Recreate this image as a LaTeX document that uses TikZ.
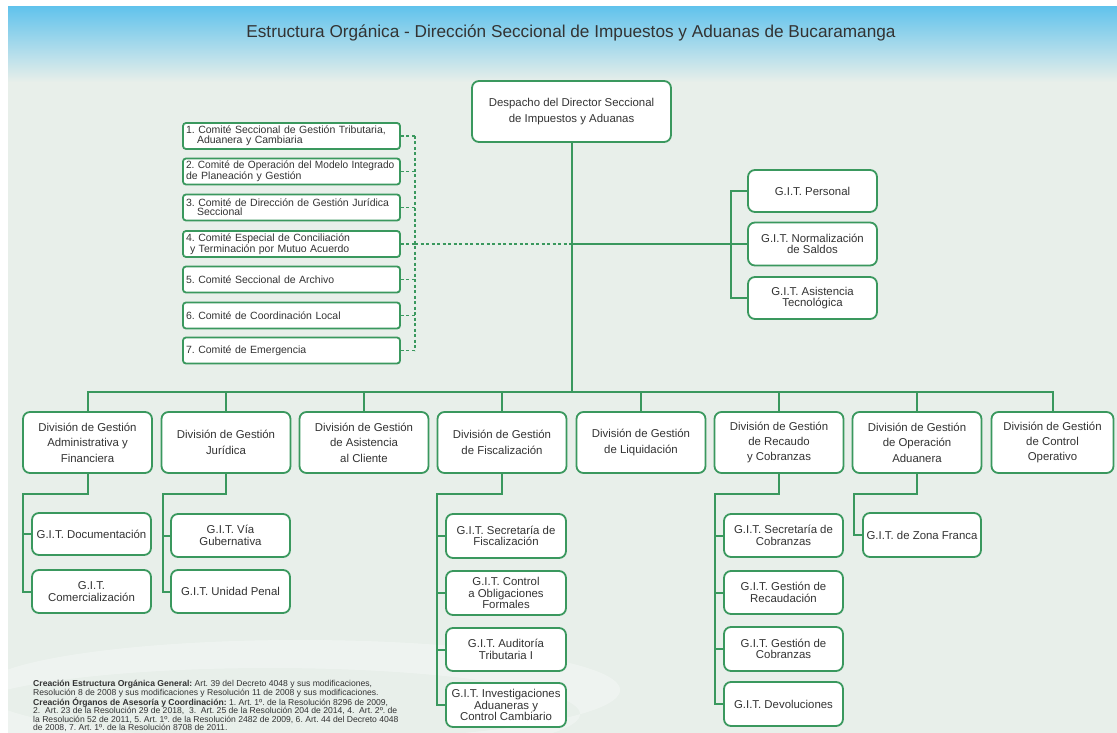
\documentclass[tikz,border=0pt]{standalone}
\usepackage{fontspec}
\usepackage{graphicx}
\setmainfont{Liberation Sans}
\usetikzlibrary{calc}
\definecolor{gr}{RGB}{58,152,94}
\definecolor{bg}{RGB}{232,239,234}
\definecolor{sky}{RGB}{98,195,236}
\definecolor{txt}{RGB}{51,51,51}
\frenchspacing
\hyphenpenalty=10000
\exhyphenpenalty=10000
\begin{document}
\begin{tikzpicture}[x=1pt,y=-1pt,
 box/.style={draw=gr, line width=1.8pt, fill=white, rounded corners=7pt, align=center, inner sep=1pt, text=txt, font=\fontsize{11.4}{15.4}\selectfont},
 git/.style={box, font=\fontsize{11.4}{11.6}\selectfont},
 comm/.style={draw=gr, line width=1.8pt, fill=white, rounded corners=3pt, align=left, inner xsep=3pt, inner ysep=0pt, text=txt, minimum height=26pt, text width=211pt, font=\fontsize{10.5}{8.8}\selectfont},
 link/.style={draw=gr, line width=2pt},
 dlink/.style={draw=gr, line width=1.6pt, dash pattern=on 3pt off 2.5pt}]
\useasboundingbox (0,0) rectangle (1117,733);
\clip (0,0) rectangle (1117,733);
% background
\fill[white] (0,0) rectangle (1117,733);
\fill[bg] (8,7) rectangle (1117,733);
\shade[top color=sky, bottom color=bg] (8,7) rectangle (1117,82);
\fill[white, opacity=.3, even odd rule] (300,690) ellipse [x radius=320, y radius=50] (270,714) ellipse [x radius=310, y radius=46];
% title
\node[text=txt, font=\fontsize{17.2}{19}\selectfont] (title) at (571,33) {Estructura Orgánica - Dirección Seccional de Impuestos y Aduanas de Bucaramanga};
% top
\node[box, minimum width=199pt, minimum height=61pt] (desp) at (571.5,111.5) {Despacho del Director Seccional\\de Impuestos y Aduanas};
% committees
\node[comm] (c1) at (291.5,136) {\mbox{1. Comité Seccional de Gestión Tributaria,}\\\mbox{\hspace*{11pt}Aduanera y Cambiaria}};
\node[comm] (c2) at (291.5,171.5) {\scalebox{0.965}[1]{2. Comité de Operación del Modelo Integrado}\\\mbox{de Planeación y Gestión}};
\node[comm] (c3) at (291.5,207.5) {\mbox{3. Comité de Dirección de Gestión Jurídica}\\\mbox{\hspace*{11pt}Seccional}};
\node[comm] (c4) at (291.5,244) {\mbox{4. Comité Especial de Conciliación}\\\mbox{\hspace*{4pt}y Terminación por Mutuo Acuerdo}};
\node[comm] (c5) at (291.5,279.5) {5. Comité Seccional de Archivo};
\node[comm] (c6) at (291.5,315.5) {6. Comité de Coordinación Local};
\node[comm] (c7) at (291.5,350.5) {7. Comité de Emergencia};
% right GITs
\node[git, minimum width=129pt, minimum height=42pt] (gp) at (812.5,191) {G.I.T. Personal};
\node[git, minimum width=129pt, minimum height=43pt] (gn) at (812.5,244) {G.I.T. Normalización\\de Saldos};
\node[git, minimum width=129pt, minimum height=42pt] (ga) at (812.5,298) {G.I.T. Asistencia\\Tecnológica};
% divisions
\node[box, minimum width=129pt, minimum height=61pt] (d1) at (87.5,442.5) {División de Gestión\\Administrativa y\\Financiera};
\node[box, minimum width=129pt, minimum height=61pt] (d2) at (226,442.5) {División de Gestión\\Jurídica};
\node[box, minimum width=129pt, minimum height=61pt] (d3) at (364,442.5) {División de Gestión\\de Asistencia\\al Cliente};
\node[box, minimum width=129pt, minimum height=61pt] (d4) at (502,442.5) {División de Gestión\\de Fiscalización};
\node[box, minimum width=129pt, minimum height=61pt] (d5) at (641,442.5) {División de Gestión\\de Liquidación};
\node[box, minimum width=129pt, minimum height=61pt] (d6) at (779,442.5) {División de Gestión\\de Recaudo\\y Cobranzas};
\node[box, minimum width=129pt, minimum height=61pt] (d7) at (917,442.5) {División de Gestión\\de Operación\\Aduanera};
\node[box, minimum width=122pt, minimum height=61pt] (d8) at (1052.5,442.5) {División de Gestión\\de Control\\Operativo};
% sub GITs
\node[git, minimum width=119pt, minimum height=42pt] (a1) at (91.5,534) {G.I.T. Documentación};
\node[git, minimum width=119pt, minimum height=43pt] (a2) at (91.5,591.5) {G.I.T.\\Comercialización};
\node[git, minimum width=119pt, minimum height=43pt] (j1) at (230.5,535.5) {G.I.T. Vía\\Gubernativa};
\node[git, minimum width=119pt, minimum height=43pt] (j2) at (230.5,591.5) {G.I.T. Unidad Penal};
\node[git, minimum width=120pt, minimum height=44pt] (f1) at (506,536) {G.I.T. Secretaría de\\Fiscalización};
\node[git, minimum width=120pt, minimum height=44pt] (f2) at (506,593) {G.I.T. Control\\a Obligaciones\\Formales};
\node[git, minimum width=120pt, minimum height=43pt] (f3) at (506,649.5) {G.I.T. Auditoría\\Tributaria I};
\node[git, minimum width=120pt, minimum height=44pt] (f4) at (506,705) {G.I.T. Investigaciones\\Aduaneras y\\Control Cambiario};
\node[git, minimum width=119pt, minimum height=43pt] (r1) at (783.5,535.5) {G.I.T. Secretaría de\\Cobranzas};
\node[git, minimum width=119pt, minimum height=43pt] (r2) at (783.5,592.5) {G.I.T. Gestión de\\Recaudación};
\node[git, minimum width=119pt, minimum height=44pt] (r3) at (783.5,649) {G.I.T. Gestión de\\Cobranzas};
\node[git, minimum width=119pt, minimum height=44pt] (r4) at (783.5,704) {G.I.T. Devoluciones};
\node[git, minimum width=118pt, minimum height=44pt] (z1) at (922,535) {G.I.T. de Zona Franca};
% coordinates
\coordinate (bar) at (571.5,392);
\coordinate (dv) at (415,0);
\coordinate (rv) at (731,0);
\coordinate (ae) at (23,494);
\coordinate (je) at (163,494);
\coordinate (fe) at (437,494);
\coordinate (re) at (715,494);
\coordinate (oe) at (854,494);
% connectors
\draw[link] (desp.south) -- (bar);
\draw[link] (d1.north) |- (bar) -| (d8.north);
\foreach \i in {2,...,7} {\draw[link] (d\i.north) -- (d\i.north |- bar);}
\foreach \i in {1,...,7} {\draw[dlink] (c\i.east) -- (c\i.east -| dv);}
\draw[dlink] (c1.east -| dv) -- (c7.east -| dv);
\draw[dlink] (c4.east -| dv) -- (c4.east -| desp.south);
\draw[link] (c4.east -| desp.south) -- (gn.west);
\draw[link] (gp.west) -| (rv |- ga.west) -- (ga.west);
\draw[link] (d1.south) |- (ae) |- (a2.west);
\draw[link] (ae |- a1.west) -- (a1.west);
\draw[link] (d2.south) |- (je) |- (j2.west);
\draw[link] (je |- j1.west) -- (j1.west);
\draw[link] (d4.south) |- (fe) |- (f4.west);
\foreach \n in {f1,f2,f3} {\draw[link] (fe |- \n.west) -- (\n.west);}
\draw[link] (d6.south) |- (re) |- (r4.west);
\foreach \n in {r1,r2,r3} {\draw[link] (re |- \n.west) -- (\n.west);}
\draw[link] (d7.south) |- (oe) |- (z1.west);
% footnote
\node[anchor=north west, align=left, inner sep=0pt, text=txt, font=\fontsize{8.6}{8.5}\selectfont] (note) at (33,680) {\textbf{Creación Estructura Orgánica General:} Art. 39 del Decreto 4048 y sus modificaciones,\\Resolución 8 de 2008 y sus modificaciones y Resolución 11 de 2008 y sus modificaciones.\\\textbf{Creación Órganos de Asesoría y Coordinación:} 1. Art. 1º. de la Resolución 8296 de 2009,\\2.~ Art. 23 de la Resolución 29 de 2018,~ 3.~ Art. 25 de la Resolución 204 de 2014, 4.~ Art. 2º. de\\la Resolución 52 de 2011, 5. Art. 1º. de la Resolución 2482 de 2009, 6. Art. 44 del Decreto 4048\\de 2008, 7. Art. 1º. de la Resolución 8708 de 2011.};
\end{tikzpicture}
\end{document}
